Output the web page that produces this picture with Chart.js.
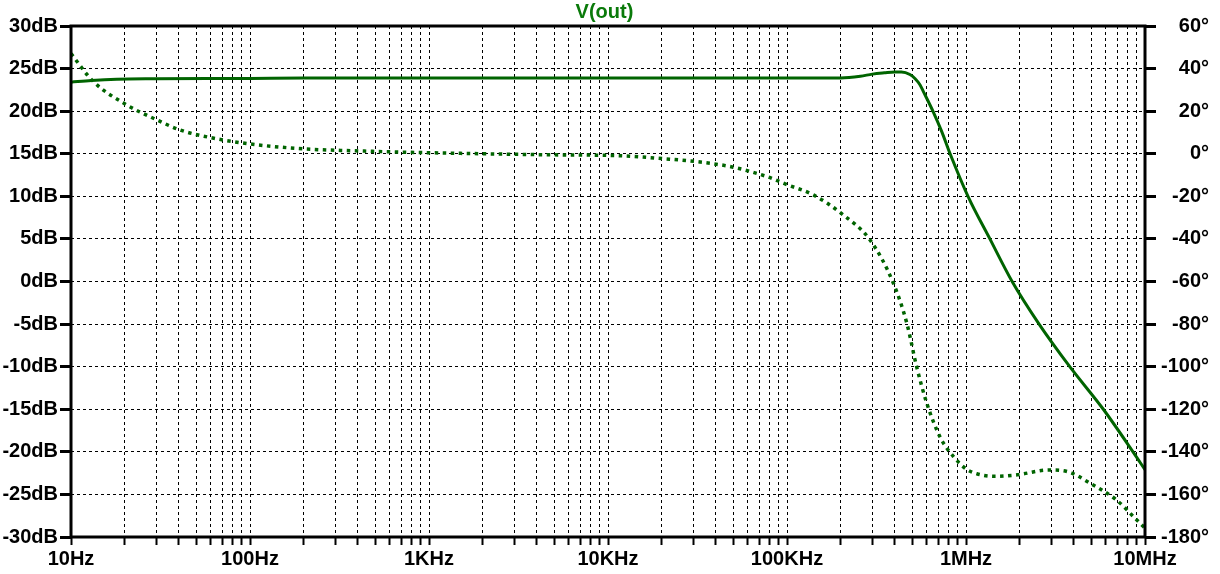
<!DOCTYPE html>
<html>
<head>
<meta charset="utf-8">
<script src="https://cdn.jsdelivr.net/npm/chart.js@4.4.0/dist/chart.umd.min.js"></script>
<style>
  body { margin: 0; background: #fff; }
</style>
</head>
<body>
<canvas id="bodeChart" width="1220" height="574"></canvas>
<script>
// magnitude of V(out), dB
const magFreq = [10, 13, 18, 30, 100, 200, 1000, 10000, 100000, 200000, 257000, 300000, 350000, 400000, 436000, 486000, 520000, 553000, 578000, 657000, 732000, 815000, 1026000, 1360000, 1810000, 2560000, 3800000, 5850000, 8570000, 10000000];
const magDb = [23.4, 23.6, 23.75, 23.8, 23.85, 23.9, 23.9, 23.9, 23.9, 23.9, 24.1, 24.35, 24.5, 24.6, 24.6, 24.3, 23.8, 23.1, 22.3, 19.9, 17.6, 15.0, 10.0, 5.0, 0.0, -5.0, -10.0, -15.0, -20.0, -22.1];

// phase of V(out), degrees
const phaseFreq = [10, 13.3, 20.4, 30, 40.6, 60, 100, 199, 412, 970, 2000, 4700, 11300, 21000, 32700, 50000, 77000, 100000, 140000, 206000, 291000, 393000, 467000, 530000, 603000, 716000, 851000, 1000000, 1150000, 1430000, 1930000, 2900000, 3700000, 4930000, 6900000, 8970000, 10000000];
const phaseDeg = [47, 34, 23, 16, 11.2, 7.6, 4.6, 2.3, 1.3, 0.5, 0, -0.5, -0.9, -2.4, -3.9, -6.3, -10.7, -14.5, -19.3, -28.7, -40.5, -60.8, -79.6, -100, -117, -133, -142.2, -148, -150.3, -151.5, -150.8, -148.5, -149.3, -154.7, -162.5, -171.9, -175.8];

const decades = [10, 100, 1000, 10000, 100000, 1000000, 10000000];
const decadeLabels = ["10Hz", "100Hz", "1KHz", "10KHz", "100KHz", "1MHz", "10MHz"];

// gridlines at 1..9 of every decade
let xTicks = [];
decades.forEach(function (d, i) {
    if (i === decades.length - 1) { xTicks.push(d); return; }
    for (let m = 1; m < 10; m++) xTicks.push(d * m);
});

const traceColor = "#006400";
const labelFont = { family: "'Liberation Sans', Arial, sans-serif", size: 20, weight: "bold" };

const framePlugin = {
    id: "frame",
    afterDraw(chart) {
        const a = chart.chartArea;
        const ctx = chart.ctx;
        ctx.save();
        ctx.strokeStyle = "#000";
        ctx.lineWidth = 3;
        ctx.strokeRect(a.left, a.top, a.right - a.left, a.bottom - a.top);
        ctx.restore();
    }
};

let ctx = document.getElementById("bodeChart").getContext("2d");

new Chart(ctx, {
    type: "line",
    data: {
        datasets: [{
            label: "mag",
            data: magFreq.map((f, i) => ({ x: f, y: magDb[i] })),
            borderColor: traceColor,
            borderWidth: 3,
            pointRadius: 0,
            cubicInterpolationMode: "monotone",
            yAxisID: "y"
        }, {
            label: "phase",
            data: phaseFreq.map((f, i) => ({ x: f, y: phaseDeg[i] })),
            borderColor: traceColor,
            borderWidth: 3.5,
            borderDash: [3.5, 4.5],
            borderCapStyle: "butt",
            pointRadius: 0,
            cubicInterpolationMode: "monotone",
            yAxisID: "y1"
        }]
    },
    options: {
        responsive: false,
        animation: false,
        devicePixelRatio: 1,
        layout: { padding: { left: 0, right: 11, top: 0, bottom: 0 } },
        plugins: {
            legend: { display: false },
            tooltip: { enabled: false },
            title: {
                display: true,
                text: "V(out)",
                color: "#0a7a0a",
                font: labelFont,
                padding: { top: 0, bottom: 2 }
            }
        },
        scales: {
            x: {
                type: "logarithmic",
                min: 10,
                max: 10000000,
                afterBuildTicks: function (scale) {
                    scale.ticks = xTicks.map(v => ({ value: v }));
                },
                afterFit: function (scale) { scale.height = 37; },
                ticks: {
                    autoSkip: false,
                    maxRotation: 0,
                    padding: 2,
                    color: "#000",
                    font: labelFont,
                    callback: function (value) {
                        const i = decades.indexOf(value);
                        return i >= 0 ? decadeLabels[i] : "";
                    }
                },
                grid: {
                    color: "#000",
                    lineWidth: 1,
                    tickLength: 8,
                    tickWidth: 2,
                    tickColor: "#000",
                    tickBorderDash: []
                },
                border: { display: false, dash: [3, 3] }
            },
            y: {
                position: "left",
                min: -30,
                max: 30,
                afterFit: function (scale) { scale.width = 71; },
                ticks: {
                    stepSize: 5,
                    padding: 2,
                    color: "#000",
                    font: labelFont,
                    callback: v => v + "dB"
                },
                grid: {
                    color: "#000",
                    lineWidth: 1,
                    tickLength: 11,
                    tickWidth: 3,
                    tickColor: "#000",
                    tickBorderDash: []
                },
                border: { display: false, dash: [3, 3] }
            },
            y1: {
                position: "right",
                min: -180,
                max: 60,
                afterFit: function (scale) { scale.width = 64; },
                ticks: {
                    stepSize: 20,
                    padding: 2,
                    crossAlign: "far",
                    color: "#000",
                    font: labelFont,
                    callback: v => v + "°"
                },
                grid: {
                    drawOnChartArea: false,
                    tickLength: 11,
                    tickWidth: 3,
                    tickColor: "#000",
                    tickBorderDash: []
                },
                border: { display: false }
            }
        }
    },
    plugins: [framePlugin]
});
</script>
</body>
</html>
